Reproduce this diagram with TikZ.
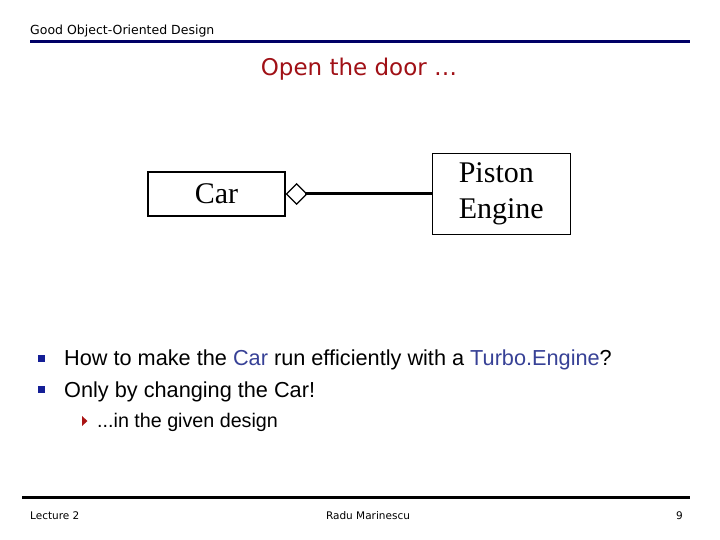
\documentclass[tikz,border=0pt]{standalone}
\usepackage{fontspec}
\setmainfont{Liberation Serif}
\setsansfont{Liberation Sans}
\newfontfamily\slidefont{DejaVu Sans}
\usetikzlibrary{positioning,arrows.meta}

\definecolor{navyrule}{RGB}{0,0,102}
\definecolor{titlered}{RGB}{160,16,22}
\definecolor{keyblue}{RGB}{55,65,150}
\definecolor{bulletblue}{RGB}{20,30,150}
\definecolor{subred}{RGB}{170,20,20}

\begin{document}
\begin{tikzpicture}[x=1pt,y=-1pt]
      \tikzset{
        node distance=146pt,
        umlclass/.style={draw,line width=1.3pt,inner sep=0pt,
          font=\fontsize{30}{36}\selectfont},
        bullettext/.style={anchor=base west,inner sep=0pt,
          font=\sffamily\fontsize{21.7}{26}\selectfont},
        slidesmall/.style={inner sep=0pt,font=\slidefont\fontsize{10.5}{13}\selectfont}
      }
      \useasboundingbox (0,0) rectangle (720,540);

      % header and footer
      \node[slidesmall,anchor=base west,font=\slidefont\fontsize{12.5}{15}\selectfont]
        (header) at (30,35) {Good Object-Oriented Design};
      \draw[navyrule,line width=3pt] (30,42) -- (690,42);
      \node[slidesmall,anchor=base,text=titlered,font=\slidefont\fontsize{23}{28}\selectfont]
        (title) at (359,76) {Open the door \dots};

      \draw[line width=3pt] (22,497) -- (690,497);
      \node[slidesmall,anchor=base west] (lecture) at (30,519) {Lecture 2};
      \node[slidesmall,anchor=base] (author) at (368,519) {Radu Marinescu};
      \node[slidesmall,anchor=base east] (page) at (683,519) {9};

      % the class diagram
      \node[umlclass,minimum width=137pt,minimum height=44pt]
        (car) at (216.5,194) {Car};
      \node[umlclass,minimum width=138pt,minimum height=81pt,align=left,right=of car]
        (engine) {Piston\\Engine};

      \draw[line width=3pt,{Diamond[open,length=22pt,width=22pt,line width=1.2pt]}-]
        (car) -- (engine);

      % bullets
      \fill[bulletblue] (37.5,354.5) rectangle (45,362);
      \fill[bulletblue] (37.5,385.5) rectangle (45,393);
      \fill[subred] (82,416) -- (87.5,421) -- (82,426) -- cycle;

      \node[bullettext] (q1) at (64,365)
        {How to make the \textcolor{keyblue}{Car} run efficiently with a \textcolor{keyblue}{Turbo.Engine}?};
      \node[bullettext] (q2) at (64,397) {Only by changing the Car!};
      \node[bullettext,font=\sffamily\fontsize{19.7}{24}\selectfont] (q3) at (97,427)
        {...in the given design};
\end{tikzpicture}
\end{document}
